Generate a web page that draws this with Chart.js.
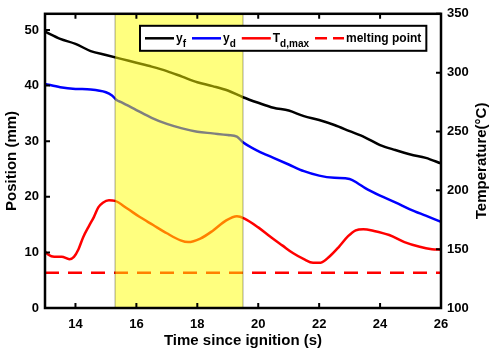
<!DOCTYPE html>
<html>
<head>
<meta charset="utf-8">
<script src="https://cdn.jsdelivr.net/npm/chart.js@4.4.1/dist/chart.umd.min.js"></script>
<style>
    html, body { margin: 0; padding: 0; background: #fff; }
    #wrap { width: 490px; height: 352px; position: relative; }
</style>
</head>
<body>
<div id="wrap"><canvas id="posChart"></canvas></div>
<script>
// flame front position y_f (mm)
const timeF = [13, 13.5, 14, 14.5, 15, 15.5, 16, 16.5, 17, 17.5, 18, 18.5, 19, 19.5, 20, 20.5, 21, 21.5, 22, 22.5, 23, 23.5, 24, 24.5, 25, 25.5, 26];
const posF = [49.7, 48.4, 47.5, 46.2, 45.5, 44.8, 44.1, 43.4, 42.6, 41.6, 40.6, 39.9, 39.1, 37.9, 36.9, 36.0, 35.5, 34.5, 33.8, 32.9, 31.8, 30.7, 29.3, 28.4, 27.6, 27.0, 26.0];

// droplet position y_d (mm)
const timeD = [13, 13.5, 14, 14.5, 15, 15.2, 15.35, 15.5, 16, 16.5, 17, 17.5, 18, 18.5, 19, 19.3, 19.5, 20, 20.5, 21, 21.5, 22, 22.5, 23, 23.3, 23.5, 24, 24.5, 25, 25.5, 26];
const posD = [40.3, 39.7, 39.4, 39.3, 38.8, 38.2, 37.4, 37.0, 35.6, 34.2, 33.1, 32.3, 31.7, 31.4, 31.1, 30.8, 29.8, 28.2, 27.0, 25.8, 24.6, 23.8, 23.4, 23.2, 22.3, 21.6, 20.2, 19.0, 17.7, 16.6, 15.5];

// max droplet temperature T_d,max (°C)
const timeT = [13.0, 13.1, 13.3, 13.55, 13.8, 13.95, 14.1, 14.25, 14.45, 14.6, 14.75, 14.9, 15.1, 15.3, 15.7, 16.1, 16.55, 17.0, 17.45, 17.7, 18.1, 18.5, 18.95, 19.3, 19.55, 20.0, 20.4, 20.8, 21.15, 21.5, 21.8, 22.05, 22.35, 22.65, 22.95, 23.2, 23.45, 23.8, 24.3, 24.8, 25.3, 25.7, 26.0];
const tempT = [148, 145.5, 143.5, 143.5, 141.5, 143.5, 150, 160, 170, 177, 185.5, 189.5, 191.5, 191, 184.5, 177.5, 170.5, 163.5, 157.5, 156, 159, 165.5, 174.5, 178, 176, 168.5, 160.5, 153, 146.5, 141.5, 138.5, 138.5, 144, 152, 161, 166, 167, 165.5, 162, 156, 152, 150, 149.5];

const meltTemp = 130;
const bandRange = [15.3, 19.5];

const xTicks = [14, 16, 18, 20, 22, 24, 26];
const posTicks = [0, 10, 20, 30, 40, 50];
const tempTicks = [100, 150, 200, 250, 300, 350];

const FONT = '"Liberation Sans", Arial, sans-serif';

function pts(xs, ys) {
    return xs.map((x, i) => ({ x: x, y: ys[i] }));
}

const legendItems = [
    { text: 'y', sub: 'f', color: '#000000', dash: [] },
    { text: 'y', sub: 'd', color: '#0000ff', dash: [] },
    { text: 'T', sub: 'd,max', color: '#ff0000', dash: [] },
    { text: 'melting point', sub: '', color: '#ff0000', dash: [12, 6] }
];

const decorPlugin = {
    id: 'decor',
    afterDraw(chart) {
        const ctx = chart.ctx;
        const a = chart.chartArea;
        const sx = chart.scales.x, sy = chart.scales.y, sy1 = chart.scales.y1;
        ctx.save();

        // yellow band over the lines
        const b0 = sx.getPixelForValue(bandRange[0]);
        const b1 = sx.getPixelForValue(bandRange[1]);
        ctx.fillStyle = 'rgba(255,255,0,0.5)';
        ctx.fillRect(b0, a.top, b1 - b0, a.bottom - a.top);
        ctx.strokeStyle = 'rgba(0,0,0,0.35)';
        ctx.lineWidth = 1;
        ctx.beginPath();
        ctx.moveTo(b0, a.top); ctx.lineTo(b0, a.bottom);
        ctx.moveTo(b1, a.top); ctx.lineTo(b1, a.bottom);
        ctx.stroke();

        // inward ticks
        ctx.strokeStyle = '#000';
        ctx.lineWidth = 2;
        const tl = 5;
        ctx.beginPath();
        xTicks.forEach(v => {
            const px = sx.getPixelForValue(v);
            ctx.moveTo(px, a.bottom); ctx.lineTo(px, a.bottom - tl);
            ctx.moveTo(px, a.top); ctx.lineTo(px, a.top + tl);
        });
        posTicks.forEach(v => {
            const py = sy.getPixelForValue(v);
            ctx.moveTo(a.left, py); ctx.lineTo(a.left + tl, py);
        });
        tempTicks.forEach(v => {
            const py = sy1.getPixelForValue(v);
            ctx.moveTo(a.right, py); ctx.lineTo(a.right - tl, py);
        });
        ctx.stroke();

        // frame
        ctx.lineWidth = 2.5;
        ctx.strokeRect(a.left, a.top, a.right - a.left, a.bottom - a.top);

        // legend
        const lx = a.left + 95, ly = a.top + 12, lh = 25;
        const mainFont = 'bold 12px ' + FONT;
        const subFont = 'bold 10px ' + FONT;
        let x = lx + 5;
        const layout = [];
        legendItems.forEach(it => {
            ctx.font = mainFont;
            const w1 = ctx.measureText(it.text).width;
            ctx.font = subFont;
            const w2 = it.sub ? ctx.measureText(it.sub).width : 0;
            layout.push({ it: it, x: x, w1: w1 });
            x += 31 + w1 + w2 + 6;
        });
        const lw = x - 6 + 5 - lx;
        ctx.fillStyle = '#fff';
        ctx.fillRect(lx, ly, lw, lh);
        ctx.lineWidth = 2;
        ctx.strokeStyle = '#000';
        ctx.strokeRect(lx, ly, lw, lh);
        const my = ly + lh / 2;
        layout.forEach(l => {
            ctx.strokeStyle = l.it.color;
            ctx.lineWidth = 2.5;
            ctx.setLineDash(l.it.dash);
            ctx.beginPath();
            ctx.moveTo(l.x, my); ctx.lineTo(l.x + 29, my);
            ctx.stroke();
            ctx.setLineDash([]);
            ctx.fillStyle = '#000';
            ctx.textBaseline = 'alphabetic';
            ctx.textAlign = 'left';
            ctx.font = mainFont;
            ctx.fillText(l.it.text, l.x + 31, my + 4);
            if (l.it.sub) {
                ctx.font = subFont;
                ctx.fillText(l.it.sub, l.x + 31 + l.w1, my + 9);
            }
        });

        // right axis title, reading upwards like the left one
        ctx.save();
        ctx.translate(a.right + 41, (a.top + a.bottom) / 2);
        ctx.rotate(-Math.PI / 2);
        ctx.font = 'bold 15px ' + FONT;
        ctx.fillStyle = '#000';
        ctx.textAlign = 'center';
        ctx.textBaseline = 'middle';
        ctx.fillText('Temperature(\u00b0C)', 0, 0);
        ctx.restore();

        ctx.restore();
    }
};

const ctx = document.getElementById('posChart').getContext('2d');
const chart = new Chart(ctx, {
    type: 'line',
    data: {
        datasets: [
            {
                label: 'y_f',
                data: pts(timeF, posF),
                borderColor: '#000000',
                borderWidth: 2.5,
                pointRadius: 0,
                cubicInterpolationMode: 'monotone',
                yAxisID: 'y'
            },
            {
                label: 'y_d',
                data: pts(timeD, posD),
                borderColor: '#0000ff',
                borderWidth: 2.5,
                pointRadius: 0,
                cubicInterpolationMode: 'monotone',
                yAxisID: 'y'
            },
            {
                label: 'T_d,max',
                data: pts(timeT, tempT),
                borderColor: '#ff0000',
                borderWidth: 2.5,
                pointRadius: 0,
                cubicInterpolationMode: 'monotone',
                yAxisID: 'y1'
            },
            {
                label: 'melting point',
                data: [{ x: 13, y: meltTemp }, { x: 26, y: meltTemp }],
                borderColor: '#ff0000',
                borderWidth: 2.5,
                borderDash: [14, 9],
                pointRadius: 0,
                yAxisID: 'y1'
            }
        ]
    },
    options: {
        responsive: true,
        maintainAspectRatio: false,
        animation: false,
        layout: { padding: { top: 13, right: 0, left: 0, bottom: 0 } },
        plugins: {
            legend: { display: false },
            tooltip: { enabled: false }
        },
        scales: {
            x: {
                type: 'linear',
                min: 13,
                max: 26,
                afterBuildTicks: s => { s.ticks = xTicks.map(v => ({ value: v })); },
                afterFit: s => { s.height = 44; },
                grid: { display: false, drawTicks: false },
                border: { display: false },
                ticks: {
                    color: '#000',
                    padding: 9,
                    maxRotation: 0,
                    font: { family: FONT, size: 13, weight: 'bold' }
                },
                title: {
                    display: true,
                    text: 'Time since ignition (s)',
                    color: '#000',
                    padding: { top: 0, bottom: 2 },
                    font: { family: FONT, size: 15, weight: 'bold' }
                }
            },
            y: {
                position: 'left',
                min: 0,
                max: 52.9,
                afterBuildTicks: s => { s.ticks = posTicks.map(v => ({ value: v })); },
                afterFit: s => { s.width = 45; },
                grid: { display: false, drawTicks: false },
                border: { display: false },
                ticks: {
                    color: '#000',
                    padding: 6,
                    font: { family: FONT, size: 13, weight: 'bold' }
                },
                title: {
                    display: true,
                    text: 'Position (mm)',
                    color: '#000',
                    padding: { top: 3, bottom: 2 },
                    font: { family: FONT, size: 15, weight: 'bold' }
                }
            },
            y1: {
                position: 'right',
                min: 100,
                max: 350,
                afterBuildTicks: s => { s.ticks = tempTicks.map(v => ({ value: v })); },
                afterFit: s => { s.width = 49; },
                grid: { display: false, drawTicks: false },
                border: { display: false },
                ticks: {
                    color: '#000',
                    padding: 6,
                    font: { family: FONT, size: 13, weight: 'bold' }
                }
            }
        }
    },
    plugins: [decorPlugin]
});
</script>
</body>
</html>
